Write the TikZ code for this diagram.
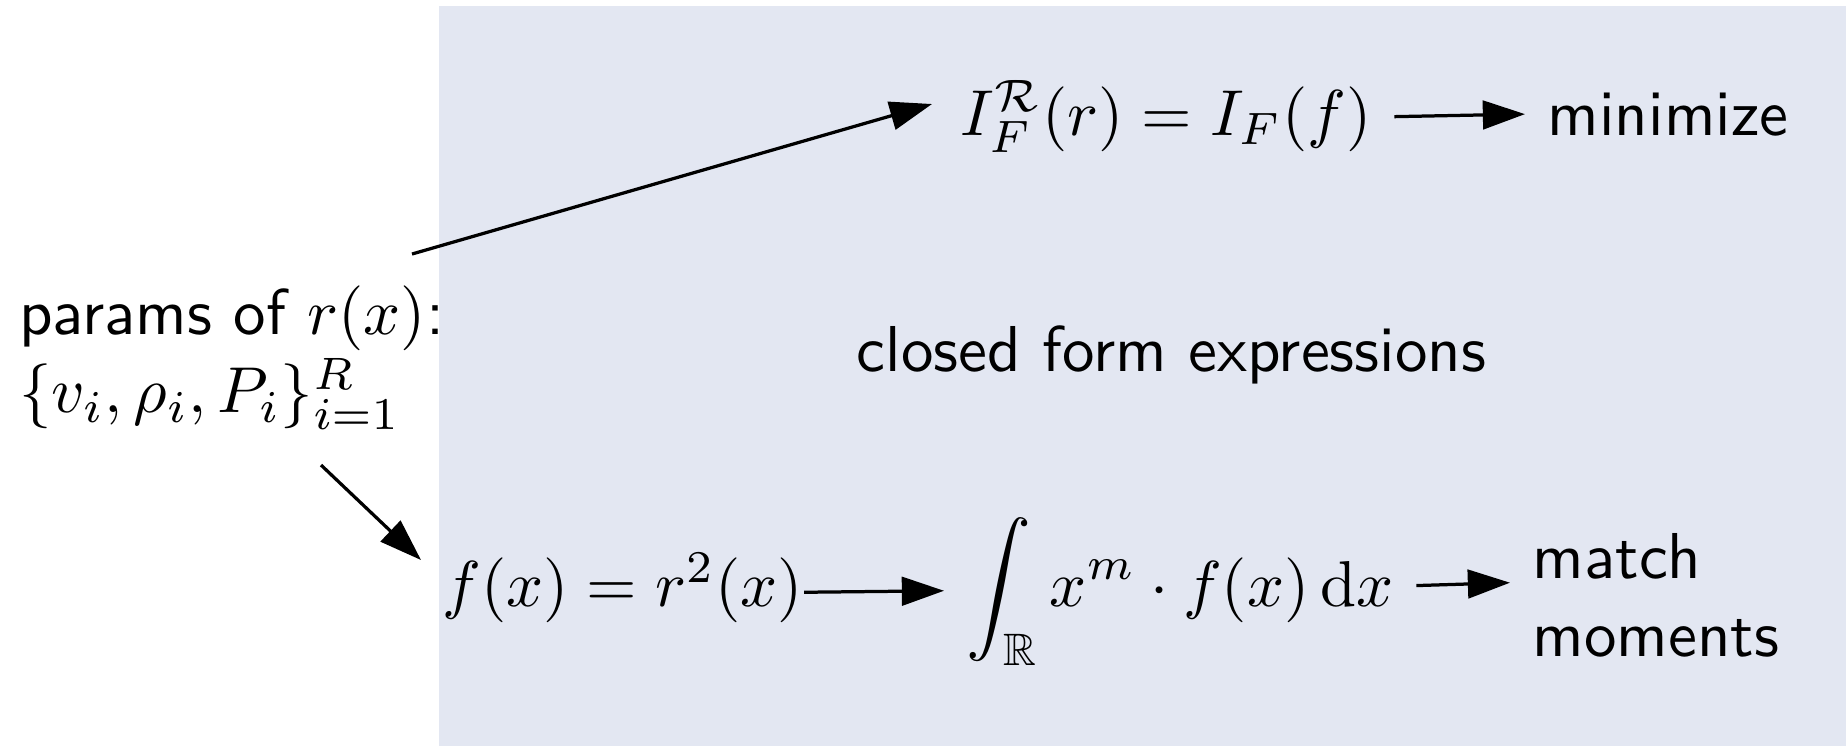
\documentclass[tikz,border=0pt]{standalone}
\usepackage{amssymb}
\usetikzlibrary{arrows.meta}
\definecolor{bgblue}{RGB}{227,231,242}
\begin{document}
\begin{tikzpicture}[x=0.1541pt,y=-0.1541pt,
  lbl/.style={font=\sffamily, anchor=base west},
  arr/.style={line width=0.5pt, -{Triangle[length=6.5pt,width=4.4pt]}}]
\useasboundingbox (0,0) rectangle (1846,746);
\fill[bgblue] (439,6) rectangle (1846,746);
\node[lbl, align=left, inner sep=0pt, anchor=north west] (params) at (18,285) {params of $r(x)$:\\$\{v_i,\rho_i,P_i\}_{i=1}^R$};
\node[lbl] (closed) at (834,371) {closed form expressions};
\node[lbl] (IF) at (938,135) {$I_F^{\mathcal{R}}(r) = I_F(f)$};
\node[lbl] (min) at (1525,135) {minimize};
\node[lbl, inner xsep=0pt] (fx) at (441,606) {$f(x)=r^2(x)$};
\node[lbl] (int) at (944,606) {$\displaystyle\int_{\mathbb{R}} x^m\cdot f(x)\,\mathrm{d}x$};
\node[lbl, align=left, anchor=west] (match) at (1510,595) {match\\moments};
\coordinate (s1) at (412,254);
\coordinate (t1) at (932,104);
\coordinate (s2) at (321,465);
\coordinate (t2) at (421,560);
\draw[arr] (s1) -- (t1);
\draw[arr] (s2) -- (t2);
\draw[arr] (IF.east) -- (min.west);
\draw[arr] ([yshift=-0.7pt]fx.east) -- ([yshift=0.1pt]int.west);
\draw[arr] ([yshift=0.9pt]int.east) -- ([yshift=1.9pt]match.west);
\end{tikzpicture}
\end{document}
